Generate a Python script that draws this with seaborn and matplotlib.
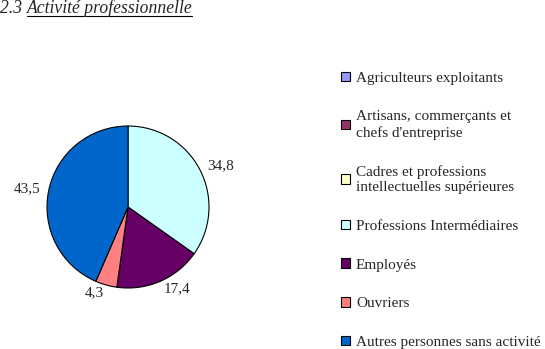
import matplotlib
matplotlib.use("Agg")
import matplotlib.pyplot as plt
import seaborn as sns
from matplotlib.lines import Line2D

categories = ["Agriculteurs exploitants",
              "Artisans, commerçants et\nchefs d'entreprise",
              "Cadres et professions\nintellectuelles supérieures",
              "Professions Intermédiaires",
              "Employés",
              "Ouvriers",
              "Autres personnes sans activité"]
values = [0, 0, 0, 34.8, 17.4, 4.3, 43.5]
colors = ["#9999FF", "#993366", "#FFFFCC", "#CCFFFF", "#660066", "#FF8080", "#0066CC"]

sns.set_style("white")
plt.rcParams['font.family'] = ['Liberation Serif', 'DejaVu Serif']

fig = plt.figure(figsize=(5.45, 3.49), dpi=100)
W, H = 545, 349

# pie axes: centre ~(128,207), radius ~81 px
ax = fig.add_axes([(128 - 81) / W, (H - 207 - 81) / H, 162 / W, 162 / H])
labels = [("%.1f" % v).replace(".", ",") if v > 0 else "" for v in values]
wedges, texts = ax.pie(values, colors=colors, startangle=90, counterclock=False,
                       labels=labels, labeldistance=1.1,
                       wedgeprops=dict(edgecolor="black", linewidth=0.8),
                       textprops=dict(fontsize=11))
ax.set_xlim(-1, 1)
ax.set_ylim(-1, 1)
ax.set_aspect("equal")
ax.axis("off")

# legend
leg = fig.legend(wedges, categories, loc="upper left",
                 bbox_to_anchor=(333 / W, 1 - 64 / H), frameon=False,
                 fontsize=11, handlelength=0.6, handleheight=0.6,
                 handletextpad=0.4, labelspacing=1.66, borderpad=0)
for t in leg.get_texts():
    t.set_linespacing(1.25)

# title
t1 = fig.text(0, 1 - 13 / H, "2.3 ", fontsize=12.7, style="italic", va="baseline")
fig.canvas.draw()
r = fig.canvas.get_renderer()
bb1 = t1.get_window_extent(r)
t2 = fig.text(bb1.x1 / W, 1 - 13 / H, "Activité professionnelle", fontsize=12.7,
              style="italic", va="baseline")
fig.canvas.draw()
bb2 = t2.get_window_extent(r)
fig.add_artist(Line2D([bb2.x0 / W, bb2.x1 / W], [1 - 15.5 / H, 1 - 15.5 / H],
                      color="black", linewidth=0.8, transform=fig.transFigure))

fig.savefig("out.png", dpi=100)
